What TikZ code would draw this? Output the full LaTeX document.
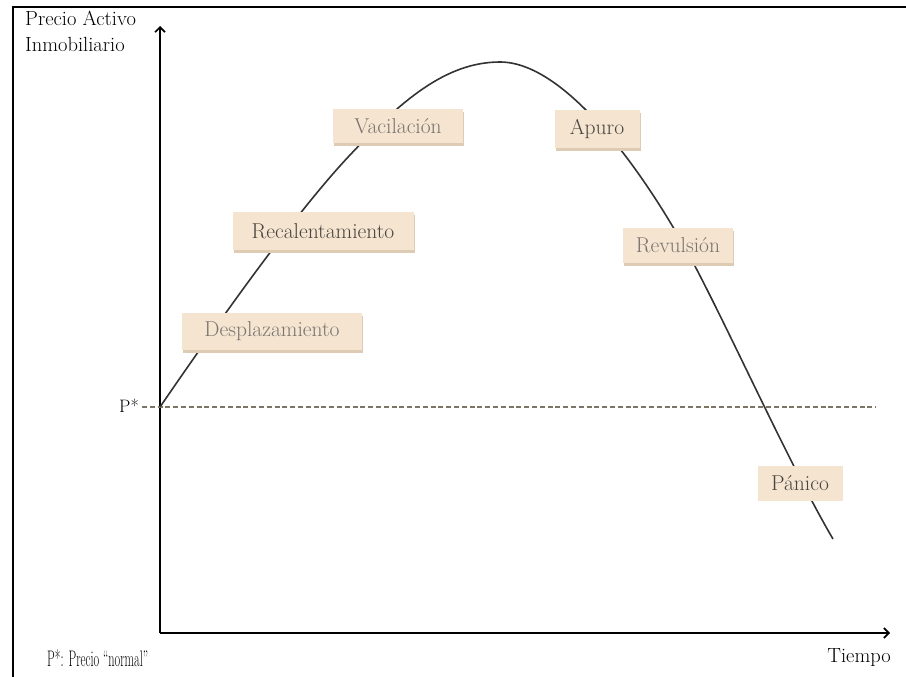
\documentclass[tikz,border=0pt]{standalone}
\usepackage{fontspec}
\usepackage{graphicx}
\usetikzlibrary{arrows.meta,shadows}
\definecolor{peach}{HTML}{F4E4D0}
\definecolor{shadowc}{HTML}{DDCBB4}
\definecolor{dashc}{HTML}{7D7566}
\definecolor{lighttxt}{HTML}{7A746E}
\definecolor{darktxt}{HTML}{48443F}
\begin{document}
\begin{tikzpicture}[x=1pt,y=-1pt,
  frame/.style={line width=2pt,black},
  axis/.style={line width=2pt,black,-{Straight Barb[length=5pt,width=10pt,line width=1.6pt]}},
  curve/.style={line width=1.6pt,draw=black!80},
  refline/.style={dashc,line width=1.4pt,dash pattern=on 5pt off 2.8pt},
  phasebox/.style={fill=peach,inner sep=0pt,font=\fontsize{21.5}{24}\selectfont},
  shadowed/.style={drop shadow={shadow xshift=1.2pt,shadow yshift=-3pt,fill=shadowc,opacity=1}},
  lbl/.style={font=\fontsize{20.5}{26}\selectfont,inner sep=0pt}]
\useasboundingbox (0,0) rectangle (906,677);
% frame
\draw[frame] (13,677) -- (13,7) -- (906,7);
% axes
\coordinate (O) at (160,633);
\coordinate (ytop) at (160,26);
\coordinate (xend) at (890,633);
\draw[axis] (O) -- (ytop);
\draw[axis] (O) -- (xend);
% reference price
\coordinate (dl) at (142,407);
\coordinate (dr) at (876,407);
\draw[refline] (dl) -- (dr);
% curve
\coordinate (c0) at (160,407);
\coordinate (c1) at (350,155);
\coordinate (c2) at (500,62);
\coordinate (c3) at (697,270);
\coordinate (c4) at (833,539);
\draw[curve] (c0) .. controls (230,305) and (300,208) .. (c1)
  .. controls (400,102) and (445,62) .. (c2)
  .. controls (568,62) and (650,180) .. (c3)
  .. controls (735,343) and (793,471) .. (c4);
% phase boxes
\node[phasebox,shadowed,text=lighttxt,minimum width=180pt,minimum height=37pt] (desp) at (272,331) {Desplazamiento};
\node[phasebox,shadowed,text=darktxt,minimum width=181pt,minimum height=38pt] (recal) at (323,231) {Recalentamiento};
\node[phasebox,shadowed,text=lighttxt,minimum width=130pt,minimum height=34pt] (vac) at (398,126) {Vacilación};
\node[phasebox,shadowed,text=darktxt,minimum width=85pt,minimum height=38pt] (apuro) at (597,129) {Apuro};
\node[phasebox,shadowed,text=lighttxt,minimum width=110pt,minimum height=35pt] (rev) at (678,245) {Revulsión};
\node[phasebox,text=darktxt,minimum width=85pt,minimum height=35pt] (pan) at (800,483) {Pánico};
% labels
\node[lbl,anchor=north west,align=left] (ylab) at (25,11) {Precio Activo\\Inmobiliario};
\node[lbl,font=\fontsize{18}{21}\selectfont,anchor=east] (pstar) at (139,406) {P*};
\node[lbl,anchor=west] (note) at (47,658) {\resizebox{101pt}{1.1\height}{P*: Precio ``normal''}};
\node[lbl,anchor=east] (tiempo) at (891,658) {Tiempo};
\end{tikzpicture}
\end{document}
